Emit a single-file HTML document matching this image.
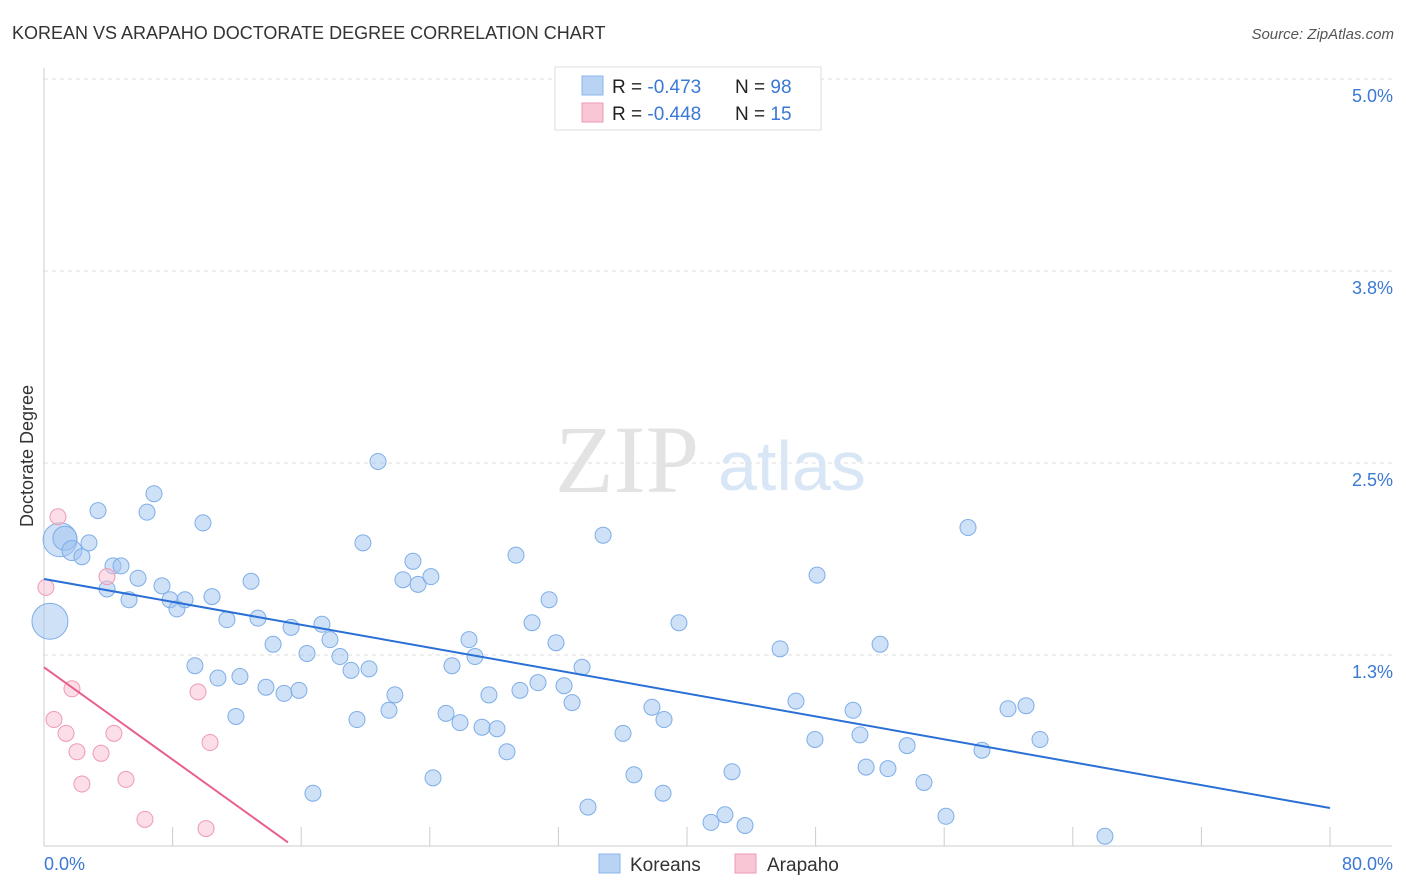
<!DOCTYPE html>
<html><head><meta charset="utf-8"><style>
body{margin:0;background:#fff;font-family:"Liberation Sans",sans-serif}
svg{display:block}
</style></head><body>
<svg id="chart" width="1406" height="892" viewBox="0 0 1406 892">
<text x="12" y="39" font-size="18" fill="#333">KOREAN VS ARAPAHO DOCTORATE DEGREE CORRELATION CHART</text>
<text x="1394" y="39" font-size="15" fill="#555" font-style="italic" text-anchor="end">Source: ZipAtlas.com</text>
<g id="grid"></g>
<g>
<text x="555" y="492" font-family="Liberation Serif,serif" font-size="96" fill="#e3e3e3">ZIP</text>
<text x="718" y="490" font-size="70" fill="#d8e6f6">atlas</text>
</g>
<line x1="44" y1="68" x2="44" y2="846" stroke="#ccc"/>
<line x1="44" y1="846" x2="1392" y2="846" stroke="#ccc"/>
<text transform="translate(33,456) rotate(-90)" font-size="18" fill="#333" text-anchor="middle">Doctorate Degree</text>
<text x="44" y="870" font-size="18" fill="#3a78d4">0.0%</text>
<text x="1393" y="870" font-size="18" fill="#3a78d4" text-anchor="end">80.0%</text>
<g id="marks"></g>
<g>
<rect x="555" y="67" width="266" height="63" fill="#fff" stroke="#ddd"/>
<rect x="582" y="76" width="21" height="19" fill="#b8d3f4" stroke="#8ab4ec"/>
<rect x="582" y="103" width="21" height="19" fill="#f9c6d5" stroke="#ef9ab4"/>
<text x="612" y="93" font-size="19" fill="#222">R = <tspan fill="#3a78d4">-0.473</tspan><tspan x="735">N = </tspan><tspan fill="#3a78d4">98</tspan></text>
<text x="612" y="120" font-size="19" fill="#222">R = <tspan fill="#3a78d4">-0.448</tspan><tspan x="735">N = </tspan><tspan fill="#3a78d4"> 15</tspan></text>
</g>
<g>
<rect x="599" y="854" width="21" height="19" fill="#b8d3f4" stroke="#8ab4ec"/>
<text x="630" y="871" font-size="19" fill="#333">Koreans</text>
<rect x="735" y="854" width="21" height="19" fill="#f9c6d5" stroke="#ef9ab4"/>
<text x="767" y="871" font-size="19" fill="#333">Arapaho</text>
</g>
</svg>
<script>
const yTicks=[5.0,3.75,2.5,1.25];
const yTickLabels=["5.0%","3.8%","2.5%","1.3%"];
const xTicks=[0,8,16,24,32,40,48,56,64,72,80];
const koreanX=[1.0,1.3,1.74,2.36,2.8,3.36,3.92,4.29,4.79,5.29,5.85,6.41,6.84,7.34,7.84,8.27,8.77,9.39,9.89,10.45,10.82,11.38,11.94,12.19,12.88,13.31,13.81,14.25,14.93,15.37,15.86,16.36,16.73,17.29,17.79,18.41,19.10,19.47,19.84,20.22,20.78,21.46,21.83,22.33,22.95,23.27,24.07,24.20,25.01,25.38,25.88,26.44,26.81,27.25,27.68,28.18,28.80,29.36,29.61,30.36,30.73,31.42,31.85,32.35,32.85,33.47,33.84,34.78,36.02,36.70,37.82,38.51,38.57,39.50,41.49,42.36,42.80,43.61,45.79,46.78,47.96,48.09,50.33,50.76,51.14,52.01,52.50,53.69,54.74,56.11,57.48,58.35,59.97,61.09,61.96,66.00,0.37,34.4];
const koreanY=[2.00,2.01,1.93,1.89,1.98,2.19,1.68,1.83,1.83,1.61,1.75,2.18,2.30,1.70,1.61,1.55,1.61,1.18,2.11,1.63,1.10,1.48,0.85,1.11,1.73,1.49,1.04,1.32,1.00,1.43,1.02,1.26,0.35,1.45,1.35,1.24,1.15,0.83,1.98,1.16,2.51,0.89,0.99,1.74,1.86,1.71,1.76,0.45,0.87,1.18,0.81,1.35,1.24,0.78,0.99,0.77,0.62,1.90,1.02,1.46,1.07,1.61,1.33,1.05,0.94,1.17,0.26,2.03,0.74,0.47,0.91,0.35,0.83,1.46,0.16,0.21,0.49,0.14,1.29,0.95,0.70,1.77,0.89,0.73,0.52,1.32,0.51,0.66,0.42,0.20,2.08,0.63,0.90,0.92,0.70,0.07,1.47,4.97];
const koreanSize=[17,12,10,8,8,8,8,8,8,8,8,8,8,8,8,8,8,8,8,8,8,8,8,8,8,8,8,8,8,8,8,8,8,8,8,8,8,8,8,8,8,8,8,8,8,8,8,8,8,8,8,8,8,8,8,8,8,8,8,8,8,8,8,8,8,8,8,8,8,8,8,8,8,8,8,8,8,8,8,8,8,8,8,8,8,8,8,8,8,8,8,8,8,8,8,8,18,8];
const arapahoX=[0.12,0.87,0.62,1.37,1.74,2.05,2.36,3.55,3.92,4.35,5.10,6.28,9.58,10.08,10.33];
const arapahoY=[1.69,2.15,0.83,0.74,1.03,0.62,0.41,0.61,1.76,0.74,0.44,0.18,1.01,0.12,0.68];
const koreanTrend=[1.745,-0.01864]; // intercept, slope
const arapahoTrend=[1.17,-0.0751];
const arapahoTrendEnd=15.18;
const NS="http://www.w3.org/2000/svg";
const sx=v=>44+v*16.075, sy=v=>847-v*153.6;
function mk(tag,attrs,parent){const e=document.createElementNS(NS,tag);for(const k in attrs)e.setAttribute(k,attrs[k]);parent.appendChild(e);return e;}
const grid=document.getElementById('grid'), marks=document.getElementById('marks'), svg=document.getElementById('chart');
yTicks.forEach((t,i)=>{
 const l=mk('line',{x1:44,x2:1392,y1:sy(t),y2:sy(t),stroke:'#ddd','stroke-dasharray':'4,4'},grid);
 
 
 const tx=mk('text',{x:1393,y:sy(t)+23,'font-size':18,fill:'#3a78d4','text-anchor':'end'},grid);
 tx.textContent=yTickLabels[i];
 
 
});
xTicks.forEach(t=>{
 const l=mk('line',{x1:sx(t),x2:sx(t),y1:827,y2:846,stroke:'#ccc'},grid);
 
 
});
koreanX.forEach((x,i)=>{
 const c=mk('circle',{cx:sx(x),cy:sy(koreanY[i]),r:koreanSize[i],fill:'rgba(160,196,240,0.5)',stroke:'#7eaee8','stroke-width':1},marks);
 
 
});
arapahoX.forEach((x,i)=>{
 const c=mk('circle',{cx:sx(x),cy:sy(arapahoY[i]),r:8,fill:'rgba(248,190,208,0.5)',stroke:'#ef9ab4','stroke-width':1},marks);
 
 
});
const kl=mk('line',{x1:sx(0),y1:sy(koreanTrend[0]),x2:sx(80),y2:sy(koreanTrend[0]+koreanTrend[1]*80),stroke:'#2a6fd6','stroke-width':2},marks);


const al=mk('line',{x1:sx(0),y1:sy(arapahoTrend[0]),x2:sx(arapahoTrendEnd),y2:sy(arapahoTrend[0]+arapahoTrend[1]*arapahoTrendEnd),stroke:'#e8608a','stroke-width':2},marks);


</script>
</body></html>
